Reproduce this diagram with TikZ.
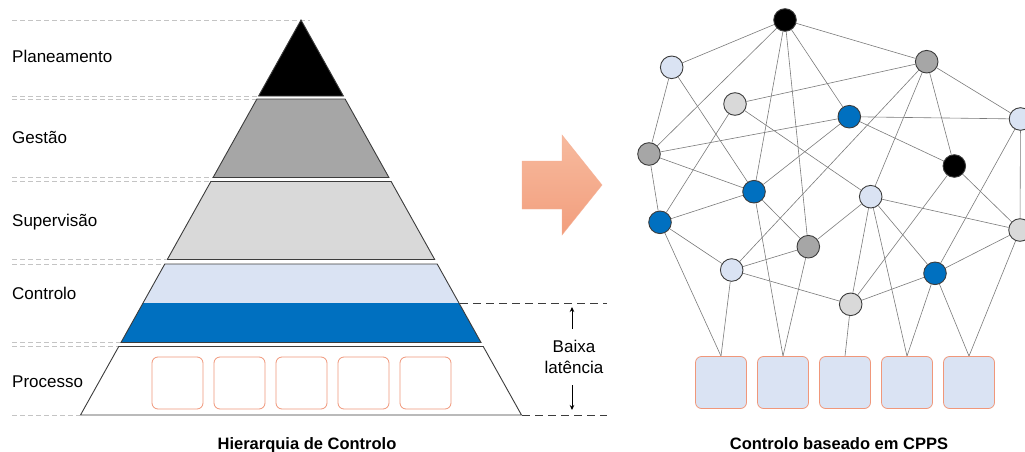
\documentclass[tikz,border=0pt]{standalone}
\usepackage{fontspec}
\setmainfont{Liberation Sans}
\usetikzlibrary{arrows.meta,backgrounds}

\definecolor{lvlgray}{HTML}{A6A6A6}
\definecolor{lvllight}{HTML}{D9D9D9}
\definecolor{paleblue}{HTML}{DAE3F3}
\definecolor{deepblue}{HTML}{0070C0}
\definecolor{edgedark}{HTML}{3C3C3C}
\definecolor{linkgray}{HTML}{7A7A7A}
\definecolor{guidegray}{HTML}{C4C4C4}
\definecolor{boxedge}{HTML}{F0977A}
\definecolor{arrowtop}{HTML}{F7BA9E}
\definecolor{arrowbot}{HTML}{F29E7D}

% one horizontal band of the pyramid, between two heights
\newcommand{\pband}[3]{%
  \path[#3] ({301-0.5582*(#1-20)},#1) -- ({301+0.5582*(#1-20)},#1)
    -- ({301+0.5582*(#2-20)},#2) -- ({301-0.5582*(#2-20)},#2) -- cycle;}
% faint dashed guide running from the left margin to the pyramid edge
\newcommand{\pguide}[1]{%
  \draw[guide] (12,#1) -- ({301-0.5582*(#1-20)-1},#1);}

\begin{document}
\begin{tikzpicture}[x=1pt,y=-1pt,
  band/.style={draw=edgedark,line width=0.9pt,line join=miter},
  guide/.style={draw=guidegray,line width=1pt,dash pattern=on 5pt off 3pt},
  darkdash/.style={draw=edgedark,line width=1pt,dash pattern=on 8pt off 5pt},
  lvllabel/.style={anchor=base west,inner sep=0pt,font=\fontsize{17}{20}\selectfont},
  caption/.style={anchor=base,inner sep=0pt,font=\fontsize{16.5}{20}\selectfont\bfseries},
  procbox/.style={draw=boxedge,line width=0.8pt,rounded corners=6pt,
                  minimum width=51pt,minimum height=52pt,inner sep=0pt},
  netnode/.style={circle,draw=edgedark,line width=0.9pt,minimum size=22.6pt,inner sep=0pt},
  pale/.style={netnode,fill=paleblue},
  blue/.style={netnode,fill=deepblue},
  mid/.style={netnode,fill=lvlgray},
  light/.style={netnode,fill=lvllight},
  dark/.style={netnode,fill=black},
  link/.style={draw=linkgray,line width=0.6pt},
  tick/.style={draw=black,line width=0.8pt,-{Stealth[length=5pt,width=4.5pt]}}]
\useasboundingbox (0,0) rectangle (1025,452);

% ---------- hierarchy pyramid ----------
\draw[guide] (12,21) -- (310,21);
\pguide{96}\pguide{99}
\pguide{177.5}\pguide{181.5}
\pguide{259.5}\pguide{264}
\pguide{342.5}\pguide{346.5}
\draw[guide] (12,415) -- (80,415);

\path[band,fill=black] (301,20) -- (343.4,96) -- (258.6,96) -- cycle;
\pband{99}{177.5}{band,fill=lvlgray}
\pband{181.5}{259.5}{band,fill=lvllight}
\pband{264}{303}{fill=paleblue}
\pband{303}{342.5}{fill=deepblue}
\pband{264}{342.5}{band}
\pband{346.5}{415}{band,fill=white}

\node[lvllabel] (lblPlan) at (12,63) {Planeamento};
\node[lvllabel] (lblGest) at (12,143.5) {Gestão};
\node[lvllabel] (lblSup) at (12,226.5) {Supervisão};
\node[lvllabel] (lblCtl) at (12,299) {Controlo};
\node[lvllabel] (lblProc) at (12,387) {Processo};

\foreach \i/\cx in {1/177.5,2/239.5,3/301.5,4/363.5,5/425.5}
  \node[procbox,fill=white] (p\i) at (\cx,383) {};

% low-latency span
\draw[darkdash] (460,303) -- (607,303);
\draw[darkdash] (522,415) -- (607,415);
\node[anchor=base,inner sep=0pt,font=\fontsize{17}{20}\selectfont] (latA) at (574,352) {Baixa};
\node[anchor=base,inner sep=0pt,font=\fontsize{17}{20}\selectfont] (latB) at (574,373) {latência};
\coordinate (upS) at (572,329);
\coordinate (upE) at (572,307);
\coordinate (dnS) at (572,385);
\coordinate (dnE) at (572,410);
\draw[tick] (upS) -- (upE);
\draw[tick] (dnS) -- (dnE);

\node[caption] (capL) at (307,449) {Hierarquia de Controlo};

% ---------- transition arrow ----------
\shade[top color=arrowtop,bottom color=arrowbot,draw=arrowbot!80!white,line width=0.4pt]
  (522,161) -- (562,161) -- (562,135) -- (602,185) -- (562,235) -- (562,209) -- (522,209) -- cycle;

% ---------- CPPS network ----------
\node[dark]  (n1)  at (785,20) {};
\node[pale]  (n2)  at (671.7,67.3) {};
\node[mid]   (n3)  at (926.7,61.7) {};
\node[light] (n4)  at (735,104) {};
\node[blue]  (n5)  at (849.3,116.7) {};
\node[pale]  (n6)  at (1020.5,119) {};
\node[mid]   (n7)  at (649,154) {};
\node[dark]  (n8)  at (954.3,166) {};
\node[blue]  (n9)  at (754,191.7) {};
\node[pale]  (n10) at (870.7,196.7) {};
\node[blue]  (n11) at (660,222.3) {};
\node[light] (n12) at (1020,230) {};
\node[mid]   (n13) at (808.3,246.7) {};
\node[pale]  (n14) at (731.7,270) {};
\node[blue]  (n15) at (935,273.3) {};
\node[light] (n16) at (850.7,304.3) {};

\foreach \i/\cx in {1/721,2/783,3/845,4/907,5/969}
  \node[procbox,fill=paleblue] (b\i) at (\cx,382.5) {};

% links sit behind the circles
\begin{pgfonlayer}{background}
  \foreach \a/\b in {n1/n2,n1/n3,n1/n7,n1/n5,n1/n9,n1/n13,
                     n2/n7,n2/n9,
                     n3/n4,n3/n6,n3/n8,n3/n14,n3/n10,
                     n4/n11,n4/n10,
                     n7/n5,n7/n9,n7/n11,
                     n5/n6,n5/n8,n5/n9,
                     n6/n12,n6/n15,
                     n8/n12,n8/n16,
                     n10/n12,n10/n15,n10/n16,n10/n13,
                     n9/n11,n9/n13,
                     n11/n14,n13/n14,n14/n16,n16/n15,n15/n12}
    \draw[link] (\a) -- (\b);
  \foreach \a/\b in {n10/b4,n9/b2,n11/b1,n13/b2,n14/b1,n16/b3,n15/b4,n15/b5,n12/b5}
    \draw[link] (\a) -- (\b.north);
\end{pgfonlayer}

\node[caption] (capR) at (839,449) {Controlo baseado em CPPS};
\end{tikzpicture}
\end{document}
